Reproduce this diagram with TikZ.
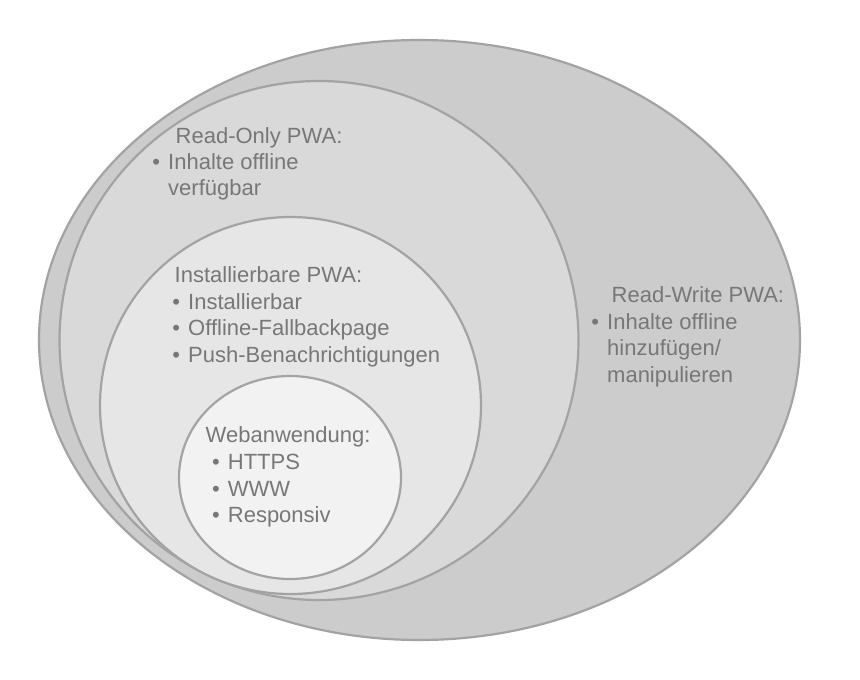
\documentclass[tikz,border=0pt]{standalone}
\usepackage{fontspec}
\setmainfont{Liberation Sans}
\usetikzlibrary{shapes.geometric}
\definecolor{ringline}{HTML}{A3A3A3}
\definecolor{txtgrey}{HTML}{777777}
\definecolor{fillA}{HTML}{CCCCCC}
\definecolor{fillB}{HTML}{D9D9D9}
\definecolor{fillC}{HTML}{E6E6E6}
\definecolor{fillD}{HTML}{F2F2F2}
\newcommand{\bul}{\makebox[0pt][c]{•}\hspace{12pt}}
\newcommand{\ind}{\hspace{12pt}}
\begin{document}
\begin{tikzpicture}[x=1pt,y=-1pt,
  ring/.style={ellipse, draw=ringline, line width=2.2pt, inner sep=0pt},
  lbl/.style={anchor=base west, inner sep=0pt, text=txtgrey,
    font=\fontsize{22}{26.5}\selectfont}]
\useasboundingbox[fill=white] (0,0) rectangle (860,680);
\node[ring, fill=fillA, minimum width=761pt, minimum height=600pt] (rw) at (419.5,340) {};
\node[ring, fill=fillB, minimum width=519pt, minimum height=519pt] (ro) at (319,340.5) {};
\node[ring, fill=fillC, minimum width=381pt, minimum height=377pt] (inst) at (290.5,405.5) {};
\node[ring, fill=fillD, minimum width=222pt, minimum height=203pt] (web) at (290,477.5) {};
% Read-Only
\node[lbl] (roT) at (175.5,143) {Read-Only PWA:};
\node[lbl] (ro1) at (156,169) {\bul Inhalte offline};
\node[lbl] (ro2) at (156,195.5) {\ind verfügbar};
% Read-Write
\node[lbl] (rwT) at (611.5,302.7) {Read-Write PWA:};
\node[lbl] (rw1) at (595,329) {\bul Inhalte offline};
\node[lbl] (rw2) at (595,355.7) {\ind hinzufügen/};
\node[lbl] (rw3) at (595,382) {\ind manipulieren};
% Installierbare
\node[lbl] (inT) at (174.5,282.3) {Installierbare PWA:};
\node[lbl] (in1) at (176,309) {\bul Installierbar};
\node[lbl] (in2) at (176,335.7) {\bul Offline-Fallbackpage};
\node[lbl] (in3) at (176,362) {\bul Push-Benachrichtigungen};
% Webanwendung
\node[lbl] (weT) at (205.5,442.7) {Webanwendung:};
\node[lbl] (we1) at (215.7,469) {\bul HTTPS};
\node[lbl] (we2) at (215.7,496) {\bul WWW};
\node[lbl] (we3) at (215.7,522.7) {\bul Responsiv};
\end{tikzpicture}
\end{document}
